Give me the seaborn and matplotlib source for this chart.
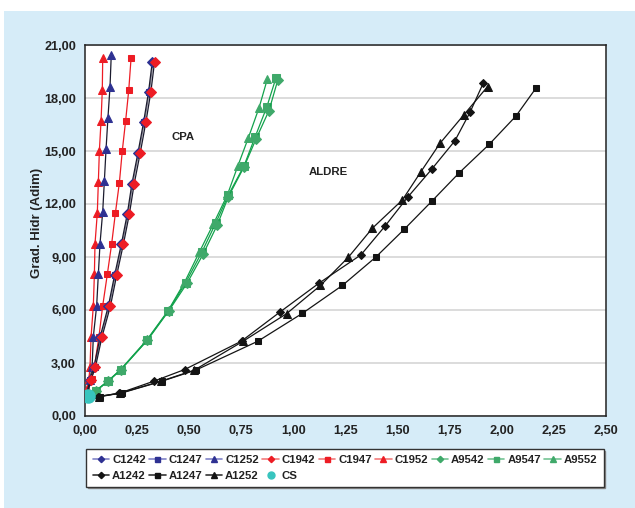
import matplotlib
matplotlib.use("Agg")
import matplotlib.pyplot as plt
from matplotlib.lines import Line2D
from matplotlib.patches import Rectangle
from matplotlib.ticker import FuncFormatter
import seaborn as sns

# ---- data: hydraulic gradient vs. flow, CPA and ALDRE tests ----
c1242_x = [0.008, 0.024, 0.043, 0.073, 0.112, 0.142, 0.174, 0.203, 0.225, 0.254, 0.281, 0.305, 0.323]
c1242_y = [1.20, 2.06, 2.77, 4.50, 6.22, 7.97, 9.71, 11.44, 13.14, 14.89, 16.62, 18.35, 20.06]
c1247_x = [0.009, 0.026, 0.046, 0.077, 0.116, 0.146, 0.178, 0.207, 0.229, 0.258, 0.285, 0.309, 0.327]
c1247_y = [1.20, 2.06, 2.77, 4.50, 6.22, 7.97, 9.71, 11.44, 13.14, 14.89, 16.62, 18.35, 20.06]
c1252_x = [0.008, 0.024, 0.034, 0.040, 0.056, 0.064, 0.072, 0.085, 0.093, 0.101, 0.110, 0.120, 0.126]
c1252_y = [1.20, 2.06, 2.77, 4.50, 6.24, 8.01, 9.75, 11.57, 13.32, 15.11, 16.86, 18.63, 20.44]
c1942_x = [0.010, 0.029, 0.050, 0.082, 0.122, 0.152, 0.184, 0.213, 0.236, 0.265, 0.292, 0.316, 0.334]
c1942_y = [1.20, 2.06, 2.77, 4.50, 6.22, 7.97, 9.71, 11.44, 13.14, 14.89, 16.62, 18.35, 20.06]
c1947_x = [0.010, 0.032, 0.045, 0.067, 0.085, 0.107, 0.128, 0.146, 0.165, 0.179, 0.195, 0.210, 0.221]
c1947_y = [1.20, 2.12, 2.77, 4.50, 6.24, 8.01, 9.75, 11.50, 13.21, 15.02, 16.71, 18.46, 20.25]
c1952_x = [0.006, 0.008, 0.019, 0.024, 0.029, 0.040, 0.045, 0.048, 0.059, 0.064, 0.069, 0.077, 0.083, 0.085]
c1952_y = [1.20, 1.55, 2.12, 2.77, 4.47, 6.24, 8.01, 9.75, 11.47, 13.23, 15.02, 16.71, 18.45, 20.25]

a9542_x = [0.020, 0.052, 0.112, 0.172, 0.299, 0.402, 0.490, 0.568, 0.635, 0.688, 0.763, 0.821, 0.883, 0.925]
a9542_y = [1.15, 1.42, 1.98, 2.62, 4.28, 5.95, 7.52, 9.19, 10.82, 12.41, 14.10, 15.69, 17.29, 19.01]
a9547_x = [0.020, 0.052, 0.112, 0.172, 0.297, 0.400, 0.483, 0.560, 0.627, 0.688, 0.763, 0.816, 0.872, 0.917]
a9547_y = [1.15, 1.42, 1.98, 2.62, 4.28, 5.95, 7.55, 9.26, 10.91, 12.51, 14.16, 15.79, 17.48, 19.16]
a9552_x = [0.020, 0.050, 0.110, 0.170, 0.295, 0.398, 0.477, 0.548, 0.616, 0.683, 0.733, 0.784, 0.835, 0.875]
a9552_y = [1.15, 1.42, 1.98, 2.62, 4.28, 5.95, 7.55, 9.26, 10.87, 12.51, 14.14, 15.75, 17.44, 19.07]

a1242_x = [0.020, 0.060, 0.162, 0.330, 0.478, 0.751, 0.935, 1.123, 1.324, 1.439, 1.548, 1.663, 1.775, 1.847, 1.911]
a1242_y = [1.12, 1.10, 1.28, 1.97, 2.63, 4.24, 5.88, 7.52, 9.12, 10.74, 12.38, 13.96, 15.58, 17.18, 18.84]
a1247_x = [0.020, 0.070, 0.178, 0.369, 0.532, 0.829, 1.043, 1.235, 1.395, 1.532, 1.666, 1.796, 1.939, 2.068, 2.164]
a1247_y = [1.12, 1.09, 1.31, 1.97, 2.60, 4.23, 5.81, 7.39, 8.99, 10.57, 12.18, 13.77, 15.37, 16.98, 18.56]
a1252_x = [0.020, 0.065, 0.170, 0.365, 0.525, 0.757, 0.967, 1.130, 1.264, 1.379, 1.523, 1.612, 1.703, 1.818, 1.932]
a1252_y = [1.12, 1.10, 1.30, 1.97, 2.60, 4.22, 5.79, 7.39, 8.99, 10.63, 12.23, 13.83, 15.43, 17.05, 18.65]

cs_x = [0.016]
cs_y = [1.14]

x_ticks = [0.0, 0.25, 0.5, 0.75, 1.0, 1.25, 1.5, 1.75, 2.0, 2.25, 2.5]
y_ticks = [0, 3, 6, 9, 12, 15, 18, 21]

# ---- styling ----
sns.set_style("white")
plt.rcParams["font.family"] = ["Liberation Sans", "DejaVu Sans"]
plt.rcParams["font.weight"] = "bold"

BLUE = "#2E3192"
RED = "#ED1C24"
GREEN_M = "#3FA96A"
GREEN_L = "#12A24C"
BLACK = "#141414"
DARK = "#1b1b2e"
CYAN = "#38C4BE"

fig = plt.figure(figsize=(6.35, 5.08), dpi=100)
fig.patch.set_facecolor("white")
# light blue panel behind everything
fig.patches.append(Rectangle((4 / 635, 0), 1, 1 - 11 / 508, transform=fig.transFigure,
                             facecolor="#D6ECF8", edgecolor="none", zorder=-10))

ax = fig.add_axes([85 / 635, 1 - 416 / 508, 521 / 635, 371 / 508])
ax.set_zorder(1)
ax.set_facecolor("white")

series = [
    # x, y, line colour, marker, marker colour, marker size
    (c1952_x, c1952_y, RED, "^", RED, 5.5),
    (c1252_x, c1252_y, DARK, "^", BLUE, 5.5),
    (c1947_x, c1947_y, RED, "s", RED, 5.0),
    (c1247_x, c1247_y, "#8a8a99", "s", BLUE, 5.0),
    (c1242_x, c1242_y, DARK, "D", BLUE, 4.8),
    (c1942_x, c1942_y, DARK, "D", RED, 4.8),
    (a9552_x, a9552_y, GREEN_L, "^", GREEN_M, 5.5),
    (a9547_x, a9547_y, GREEN_L, "s", GREEN_M, 5.5),
    (a9542_x, a9542_y, GREEN_L, "D", GREEN_M, 5.0),
    (a1247_x, a1247_y, BLACK, "s", BLACK, 5.0),
    (a1252_x, a1252_y, BLACK, "^", BLACK, 5.5),
    (a1242_x, a1242_y, BLACK, "D", BLACK, 4.5),
]
for xs, ys, lc, mk, mc, ms in series:
    sns.lineplot(x=xs, y=ys, ax=ax, sort=False, estimator=None, legend=False,
                 color=lc, linewidth=0.9, marker=mk, markersize=ms,
                 markerfacecolor=mc, markeredgecolor=mc, zorder=3)

sns.scatterplot(x=cs_x, y=cs_y, ax=ax, color=CYAN, s=110, edgecolor=CYAN,
                linewidth=0, zorder=5, legend=False)

ax.set_xlim(0, 2.5)
ax.set_ylim(0, 21)
ax.set_xticks(x_ticks)
ax.set_yticks(y_ticks)
fmt = FuncFormatter(lambda v, p: f"{v:.2f}".replace(".", ","))
ax.xaxis.set_major_formatter(fmt)
ax.yaxis.set_major_formatter(fmt)
ax.tick_params(axis="both", direction="out", length=3.5, width=1.0, color="#222222",
               labelsize=9.2, labelcolor="#222222", pad=3)
for lab in ax.get_xticklabels() + ax.get_yticklabels():
    lab.set_fontweight("bold")
ax.yaxis.grid(True, color="#D5D5D5", linewidth=1.2)
ax.xaxis.grid(False)
ax.set_axisbelow(True)
for sp in ax.spines.values():
    sp.set_color("#222222")
    sp.set_linewidth(1.1)

ax.set_ylabel("Grad. Hidr (Adim)", fontsize=9.5, fontweight="bold", color="#222222")
ax.yaxis.set_label_coords(-0.081, 0.52)

ax.text(0.47, 15.8, "CPA", fontsize=8.2, fontweight="bold", color="#222222",
        ha="center", va="center")
ax.text(1.17, 13.8, "ALDRE", fontsize=8.2, fontweight="bold", color="#222222",
        ha="center", va="center")

# ---- legend ----
def handle(lc, mk, mc, ms=4.0):
    return Line2D([], [], color=lc, linewidth=1.2, marker=mk, markersize=ms,
                  markerfacecolor=mc, markeredgecolor=mc)

h = {
    "C1242": handle("#8184C8", "D", BLUE, 3.2),
    "C1247": handle("#8184C8", "s", BLUE, 3.6),
    "C1252": handle("#8184C8", "^", BLUE, 3.8),
    "C1942": handle("#F27C7C", "D", RED, 3.2),
    "C1947": handle("#F27C7C", "s", RED, 3.6),
    "C1952": handle("#F27C7C", "^", RED, 3.8),
    "A9542": handle("#74C394", "D", GREEN_M, 3.2),
    "A9547": handle("#74C394", "s", GREEN_M, 3.6),
    "A9552": handle("#74C394", "^", GREEN_M, 3.8),
    "A1242": handle("#333333", "D", BLACK, 3.2),
    "A1247": handle("#333333", "s", BLACK, 3.6),
    "A1252": handle("#333333", "^", BLACK, 3.8),
    "CS": Line2D([], [], linestyle="none", marker="o", markersize=5,
                 markerfacecolor=CYAN, markeredgecolor=CYAN),
}
# column-major filling: first row holds the C and A95 series, second row the rest
order = ["C1242", "A1242", "C1247", "A1247", "C1252", "A1252", "C1942", "CS",
         "C1947", "C1952", "A9542", "A9547", "A9552"]
leg = fig.legend([h[k] for k in order], order, ncol=9, loc="center",
                 bbox_to_anchor=(345 / 635, 1 - 468 / 508),
                 frameon=True, fancybox=False,
                 shadow={"ox": 1.2, "oy": -1.2, "color": "#8a8a8a", "alpha": 1},
                 prop={"size": 8.2, "weight": "bold"}, handlelength=1.45,
                 handletextpad=0.25, columnspacing=0.3, labelspacing=0.45,
                 borderpad=0.55, borderaxespad=0)
leg.get_frame().set_edgecolor("#333333")
leg.get_frame().set_linewidth(1.0)
for t in leg.get_texts():
    t.set_color("#222222")

fig.savefig("out.png", dpi=100)
